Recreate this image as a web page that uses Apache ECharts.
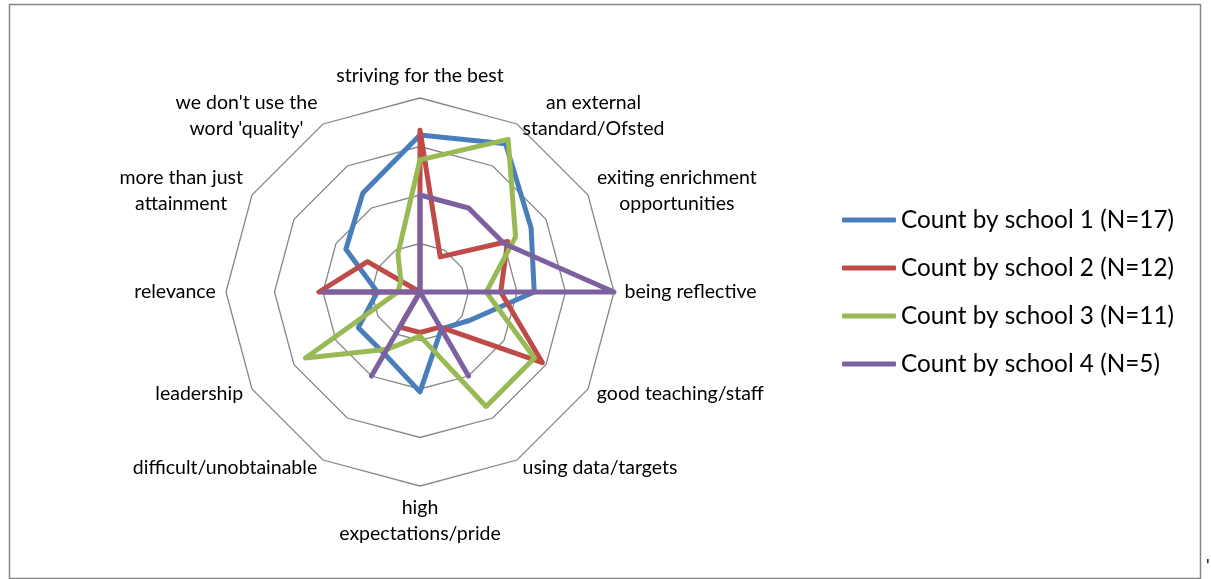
<!DOCTYPE html>
<html>
<head>
<meta charset="utf-8">
<script src="https://cdn.jsdelivr.net/npm/echarts@6/dist/echarts.min.js"></script>
<style>
	html, body { margin: 0; padding: 0; background: #fff; }
	#chart { width: 1211px; height: 579px; }
</style>
</head>
<body>
<div id="chart"></div>
<script>
// axes, clockwise from the top
const categories = [
	'striving for the best',
	'an external\nstandard/Ofsted',
	'exiting enrichment\nopportunities',
	'being reflective',
	'good teaching/staff',
	'using data/targets',
	'high\nexpectations/pride',
	'difficult/unobtainable',
	'leadership',
	'relevance',
	'more than just\nattainment',
	"we don't use the\nword 'quality'"
];

const seriesNames = [
	'Count by school 1 (N=17)',
	'Count by school 2 (N=12)',
	'Count by school 3 (N=11)',
	'Count by school 4 (N=5)'
];

// share of each school's responses, same order as categories
const school1 = [0.647, 0.706, 0.529, 0.471, 0.235, 0.176, 0.412, 0.294, 0.294, 0.176, 0.353, 0.471];
const school2 = [0.667, 0.167, 0.417, 0.333, 0.583, 0.167, 0.167, 0.167, 0, 0.417, 0.25, 0];
const school3 = [0.545, 0.727, 0.455, 0.273, 0.545, 0.545, 0.182, 0.273, 0.545, 0.091, 0.091, 0.182];
const school4 = [0.4, 0.4, 0.4, 0.8, 0, 0.4, 0, 0.4, 0, 0.4, 0, 0];

const axisMax = 0.8;
const colors = ['#4A7EBB', '#BE4B48', '#98B954', '#7D60A0'];

var chart = echarts.init(document.getElementById('chart'));

// echarts lays radar axes out anticlockwise, so walk the list backwards after the first
const order = categories.map(function (c, i) { return (categories.length - i) % categories.length; });

// centred lines inside each name block, like excel does
const nameSize = 19.5;
const ctx = document.createElement('canvas').getContext('2d');
ctx.font = nameSize + 'px Lato';
const rich = {};
categories.forEach(function (c, i) {
	let w = 0;
	c.split('\n').forEach(function (l) { w = Math.max(w, ctx.measureText(l).width); });
	rich['n' + i] = {
		width: Math.ceil(w) + 2,
		align: 'center',
		fontFamily: 'Lato',
		fontSize: nameSize,
		lineHeight: 26,
		color: '#000'
	};
});

const schools = [school1, school2, school3, school4];

option = {
	backgroundColor: '#fff',
	color: colors,
	animation: false,
	graphic: [{
		type: 'rect',
		silent: true,
		shape: { x: 9.5, y: 4.5, width: 1191, height: 574 },
		style: { fill: 'none', stroke: '#868686', lineWidth: 1.5 }
	}, {
		type: 'text',
		silent: true,
		left: 1206,
		top: 557,
		style: { text: "'", fontFamily: 'Lato', fontSize: 18, fill: '#000' }
	}],
	legend: {
		orient: 'vertical',
		left: 842,
		top: 206,
		padding: 0,
		itemWidth: 54,
		itemHeight: 5,
		itemGap: 20,
		icon: 'roundRect',
		textStyle: {
			fontFamily: 'Lato',
			fontSize: 24.3,
			lineHeight: 28,
			color: '#000'
		},
		data: seriesNames
	},
	radar: {
		center: [420, 292],
		radius: 194,
		startAngle: 90,
		splitNumber: 4,
		shape: 'polygon',
		nameGap: 9,
		indicator: order.map(function (i) {
			return { name: categories[i], min: 0, max: axisMax };
		}),
		axisName: {
			color: '#000',
			fontFamily: 'Lato',
			fontSize: nameSize,
			formatter: function (name) {
				const i = categories.indexOf(name);
				return name.split('\n').map(function (l) {
					return '{n' + i + '|' + l + '}';
				}).join('\n');
			},
			rich: rich
		},
		splitLine: {
			lineStyle: { color: '#868686', width: 1.3 }
		},
		splitArea: { show: false },
		axisLine: { show: false },
		axisTick: { show: false },
		axisLabel: { show: false }
	},
	series: schools.map(function (vals, k) {
		return {
			name: seriesNames[k],
			type: 'radar',
			symbol: 'none',
			lineStyle: {
				width: 5,
				color: colors[k],
				cap: 'round',
				join: 'round'
			},
			itemStyle: { color: colors[k] },
			data: [{
				name: seriesNames[k],
				value: order.map(function (i) { return vals[i]; })
			}]
		};
	})
};

chart.setOption(option);
</script>
</body>
</html>
